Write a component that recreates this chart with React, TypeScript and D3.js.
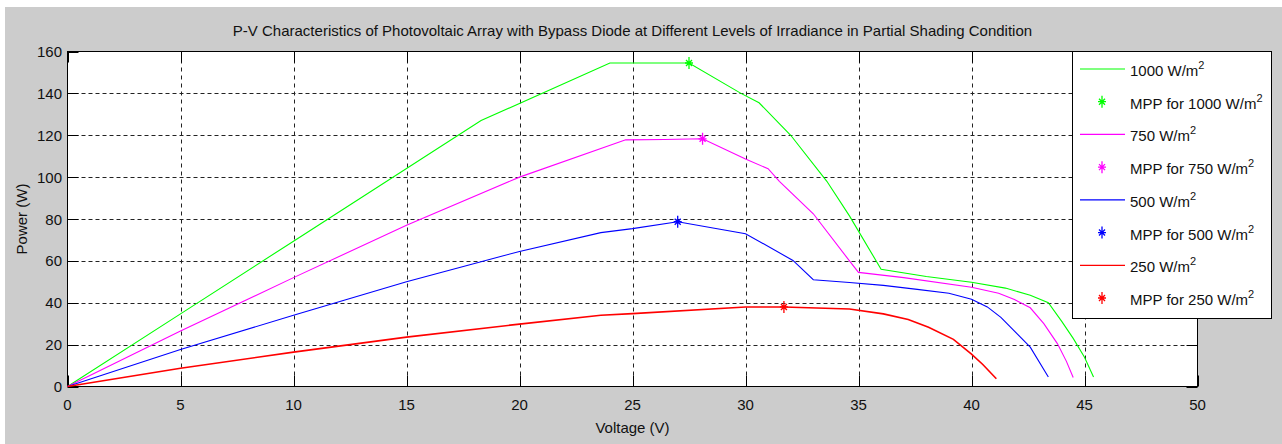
import { useEffect, useRef } from 'react'
import * as d3 from 'd3'

// P-V curves (Voltage in V, Power in W)
const v1000 = [0, 5, 10, 18.3, 24.0, 27.5, 29.8, 30.6, 32.0, 33.6, 34.6, 36.0, 38, 40, 41.5, 42.6, 43.4, 44, 44.5, 45, 45.4]
const p1000 = [0, 34.7, 69.4, 127, 154.5, 154.5, 140, 135.5, 120, 98, 81.5, 56, 52.5, 49.8, 47, 43.6, 40, 31, 23, 14, 4.5]

const v750 = [0, 5, 10, 15, 20, 24.7, 26.4, 28.1, 30, 31, 31.5, 33, 34.6, 35, 37, 40, 41.2, 41.9, 42.6, 43.2, 43.8, 44.2, 44.5]
const p750 = [0, 26.5, 52, 77, 100, 117.8, 118, 118.3, 108.6, 104, 98, 82.5, 60, 54.5, 52, 47.4, 44.5, 41.5, 37.6, 30, 20.5, 12, 4.3]

const v500 = [0, 5, 10, 15, 20, 23.6, 25, 27.0, 30, 32.1, 33.0, 34.6, 36.1, 37.6, 39, 40, 40.7, 41.3, 42, 42.6, 43.4]
const p500 = [0, 17.7, 34, 50, 64.5, 73.5, 75.4, 78.7, 73, 60.2, 51, 49.7, 48.3, 46.4, 44.5, 41.7, 38, 33, 25.4, 18.8, 4.5]

const v250 = [0, 5, 10, 15, 20, 23.6, 25, 30, 31.7, 34.6, 36.1, 37.2, 38.1, 39.2, 40, 40.5, 41.1]
const p250 = [0, 8.7, 16.4, 23.6, 29.8, 34, 34.8, 38, 38, 37, 34.7, 32, 28.3, 22.5, 15.5, 10.5, 3.7]

// maximum power points
const mppV = [27.5, 28.1, 27.0, 31.7]
const mppP = [154.5, 118.3, 78.7, 38]

const levels = ['1000', '750', '500', '250']
const colors = ['#00ff00', '#ff00ff', '#0000ff', '#ff0000']

const X_TICKS = [0, 5, 10, 15, 20, 25, 30, 35, 40, 45, 50]
const Y_TICKS = [0, 20, 40, 60, 80, 100, 120, 140, 160]

const TITLE = 'P-V Characteristics of Photovoltaic Array with Bypass Diode at Different Levels of Irradiance in Partial Shading Condition'

const W = 1282
const H = 444
const FONT = '"Liberation Sans", Arial, Helvetica, sans-serif'

const STAR = 'M0,-6L0,6M-4,0L4,0M-3,-3L3,3M-3,3L3,-3'

export default function App() {
  const svgRef = useRef<SVGSVGElement>(null)

  useEffect(() => {
    if (!svgRef.current) return
    const svg = d3.select(svgRef.current)
    svg.selectAll('*').remove()

    const series = [
      { v: v1000, p: p1000 },
      { v: v750, p: p750 },
      { v: v500, p: p500 },
      { v: v250, p: p250 },
    ].map((s, i) => ({
      pts: s.v.map((v, j) => [v, s.p[j]] as [number, number]),
      mpp: [mppV[i], mppP[i]] as [number, number],
      color: colors[i],
      level: levels[i],
    }))

    const left = 67.5, right = 1197.5, top = 51.5, bottom = 386.5
    const x = d3.scaleLinear().domain([0, 50]).range([left, right])
    const y = d3.scaleLinear().domain([0, 160]).range([bottom, top])

    // figure background
    svg.append('rect').attr('x', 5).attr('y', 7).attr('width', W - 5).attr('height', H - 7).attr('fill', '#cccccc')
    svg.append('rect').attr('x', left).attr('y', top).attr('width', right - left).attr('height', bottom - top).attr('fill', '#fff')

    const g = svg.append('g')

    // grid
    g.selectAll('.gx').data(X_TICKS.slice(1, -1)).enter().append('line')
      .attr('x1', d => Math.round(x(d)) + 0.5).attr('x2', d => Math.round(x(d)) + 0.5)
      .attr('y1', top).attr('y2', bottom)
      .attr('stroke', '#222').attr('stroke-dasharray', '4,4')
    g.selectAll('.gy').data(Y_TICKS.slice(1, -1)).enter().append('line')
      .attr('y1', d => Math.round(y(d)) + 0.5).attr('y2', d => Math.round(y(d)) + 0.5)
      .attr('x1', left).attr('x2', right)
      .attr('stroke', '#222').attr('stroke-dasharray', '4,3')

    // inward ticks
    const TL = 11
    X_TICKS.forEach(t => {
      const px = Math.round(x(t)) + 0.5
      g.append('line').attr('x1', px).attr('x2', px).attr('y1', bottom).attr('y2', bottom - TL).attr('stroke', '#000')
      g.append('line').attr('x1', px).attr('x2', px).attr('y1', top).attr('y2', top + TL).attr('stroke', '#000')
    })
    Y_TICKS.forEach(t => {
      const py = Math.round(y(t)) + 0.5
      g.append('line').attr('y1', py).attr('y2', py).attr('x1', left).attr('x2', left + TL).attr('stroke', '#000')
      g.append('line').attr('y1', py).attr('y2', py).attr('x1', right).attr('x2', right - TL).attr('stroke', '#000')
    })

    // box
    g.append('rect').attr('x', left).attr('y', top).attr('width', right - left).attr('height', bottom - top)
      .attr('fill', 'none').attr('stroke', '#000')

    // tick labels
    g.selectAll('.xl').data(X_TICKS).enter().append('text')
      .attr('x', d => x(d)).attr('y', 410)
      .attr('text-anchor', 'middle').attr('font-size', 15).attr('font-family', FONT).attr('fill', '#111')
      .text(d => d)
    g.selectAll('.yl').data(Y_TICKS).enter().append('text')
      .attr('x', 62).attr('y', d => y(d) + 5.5)
      .attr('text-anchor', 'end').attr('font-size', 15).attr('font-family', FONT).attr('fill', '#111')
      .text(d => d)

    // curves
    const line = d3.line<[number, number]>().x(d => x(d[0])).y(d => y(d[1]))
    series.forEach(s => {
      g.append('path').attr('d', line(s.pts)).attr('fill', 'none')
        .attr('stroke', s.color).attr('stroke-width', s.level === '250' ? 1.6 : 1.1)
    })
    series.forEach(s => {
      g.append('path').attr('d', STAR)
        .attr('transform', `translate(${x(s.mpp[0])},${y(s.mpp[1])})`)
        .attr('fill', 'none').attr('stroke', s.color).attr('stroke-width', 1.3)
    })

    // titles
    svg.append('text').attr('x', (left + right) / 2).attr('y', 36)
      .attr('text-anchor', 'middle').attr('font-size', 15).attr('font-family', FONT).attr('fill', '#111')
      .text(TITLE)
    svg.append('text').attr('x', (left + right) / 2).attr('y', 433)
      .attr('text-anchor', 'middle').attr('font-size', 15).attr('font-family', FONT).attr('fill', '#111')
      .text('Voltage (V)')
    svg.append('text').attr('transform', `translate(27,${(top + bottom) / 2}) rotate(-90)`)
      .attr('text-anchor', 'middle').attr('font-size', 15).attr('font-family', FONT).attr('fill', '#111')
      .text('Power (W)')

    // legend
    const lg = svg.append('g')
    lg.append('rect').attr('x', 1072.5).attr('y', 51.5).attr('width', 199).attr('height', 267)
      .attr('fill', '#fff').attr('stroke', '#000')
    const rows = series.flatMap(s => [
      { kind: 'line', color: s.color, label: `${s.level} W/m` },
      { kind: 'star', color: s.color, label: `MPP for ${s.level} W/m` },
    ])
    const rowY = d3.scaleLinear().domain([0, rows.length - 1]).range([69, 298])
    rows.forEach((r, i) => {
      const ry = rowY(i)
      if (r.kind === 'line') {
        lg.append('line').attr('x1', 1080).attr('x2', 1125).attr('y1', ry).attr('y2', ry)
          .attr('stroke', r.color).attr('stroke-width', 1.2)
      } else {
        lg.append('path').attr('d', STAR).attr('transform', `translate(1102,${ry})`)
          .attr('fill', 'none').attr('stroke', r.color).attr('stroke-width', 1.3)
      }
      const t = lg.append('text').attr('x', 1130).attr('y', ry + 7)
        .attr('font-size', 15).attr('font-family', FONT).attr('fill', '#111')
      t.append('tspan').text(r.label)
      t.append('tspan').attr('dy', -7).attr('font-size', 11).text('2')
    })
  }, [])

  return (
    <div style={{ position: 'fixed', left: 0, top: 0, background: '#fff' }}>
      <svg ref={svgRef} width={W} height={H} style={{ display: 'block' }} />
    </div>
  )
}
